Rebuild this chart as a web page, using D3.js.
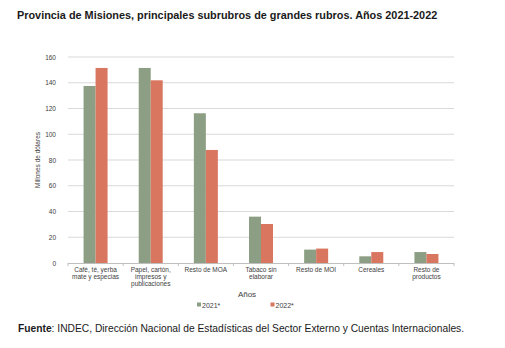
<!DOCTYPE html>
<html><head><meta charset="utf-8">
<script src="https://cdn.jsdelivr.net/npm/d3@7"></script>
<style>body{margin:0;background:#fff}svg{display:block}</style>
</head><body>
<script>
const categories = [
  ["Café, té, yerba","mate y especias"],
  ["Papel, cartón,","impresos y","publicaciones"],
  ["Resto de MOA"],
  ["Tabaco sin","elaborar"],
  ["Resto de MOI"],
  ["Cereales"],
  ["Resto de","productos"]
];
const series2021 = [137.5, 151.5, 116.3, 36, 10.4, 5.2, 8.5];
const series2022 = [151.5, 141.9, 87.8, 30.3, 11.2, 8.5, 7.0];
const seriesNames = ["2021*", "2022*"];
const yTicks = [0,20,40,60,80,100,120,140,160];

const W=505,H=348;
const svg=d3.select("body").append("svg").attr("width",W).attr("height",H);
const colors=["#8c9f84","#d8765f"];
const x0=68,x1=454,yTop=57,yBot=263;
const x=d3.scaleBand().domain(d3.range(categories.length)).range([x0,x1]);
const y=d3.scaleLinear().domain([0,160]).range([yBot,yTop]);
const sub=d3.scaleBand().domain([0,1]).range([0,24]);

const title=svg.append("text").attr("x",17).attr("y",19)
  .attr("font-family","'Liberation Sans Narrow','Liberation Sans',Arial,sans-serif")
  .attr("font-weight","bold").attr("font-size",13.5).attr("fill","#1a1a1a")
  .text("Provincia de Misiones, principales subrubros de grandes rubros. Años 2021-2022");
const tw=title.node().getComputedTextLength();
if(tw>0) title.attr("font-size",13.5*421/tw);

// grid
svg.append("g").selectAll("line").data(yTicks.filter(d=>d>0)).join("line")
  .attr("x1",x0).attr("x2",x1).attr("y1",d=>y(d)).attr("y2",d=>y(d))
  .attr("stroke","#d9d9d9").attr("stroke-width",1);

const yAxis=svg.append("g").attr("transform",`translate(${x0},0)`)
  .call(d3.axisLeft(y).tickValues(yTicks).tickSize(0).tickPadding(12));
yAxis.select(".domain").remove();
yAxis.selectAll("text").attr("font-family","'Liberation Sans',Arial,sans-serif").attr("font-size",6.5).attr("fill","#404040");

// bars
const data=[series2021,series2022];
data.forEach((s,si)=>{
  svg.append("g").selectAll("rect").data(s).join("rect")
    .attr("x",(d,i)=>x(i)+x.bandwidth()/2-12+sub(si))
    .attr("width",sub.bandwidth())
    .attr("y",d=>y(d)).attr("height",d=>yBot-y(d))
    .attr("fill",colors[si]);
});

// x axis
svg.append("line").attr("x1",x0).attr("x2",x1).attr("y1",yBot+0.5).attr("y2",yBot+0.5).attr("stroke","#bfbfbf");
svg.append("g").selectAll("line").data(d3.range(categories.length+1)).join("line")
  .attr("x1",i=>x0+i*x.step()).attr("x2",i=>x0+i*x.step())
  .attr("y1",yBot).attr("y2",yBot+3).attr("stroke","#bfbfbf");
const lab=svg.append("g").selectAll("text").data(categories).join("text")
  .attr("x",(d,i)=>x(i)+x.bandwidth()/2).attr("y",271.5)
  .attr("text-anchor","middle").attr("font-family","'Liberation Sans',Arial,sans-serif")
  .attr("font-size",6.5).attr("fill","#404040");
lab.selectAll("tspan").data(d=>d).join("tspan")
  .attr("x",function(){return this.parentNode.getAttribute("x");})
  .attr("dy",(d,i)=>i?7.3:0).text(d=>d);

svg.append("text").attr("x",247).attr("y",296.5).attr("text-anchor","middle")
  .attr("font-family","'Liberation Sans',Arial,sans-serif").attr("font-size",8).attr("fill","#404040").text("Años");

svg.append("text").attr("transform","translate(40,160) rotate(-90)").attr("text-anchor","middle")
  .attr("font-family","'Liberation Sans',Arial,sans-serif").attr("font-size",6.5).attr("fill","#404040").text("Millones de dólares");

// legend
const leg=[[197,seriesNames[0]],[270.5,seriesNames[1]]];
leg.forEach(([lx,t],i)=>{
  svg.append("rect").attr("x",lx).attr("y",302.5).attr("width",4).attr("height",4).attr("fill",colors[i]);
  svg.append("text").attr("x",lx+5).attr("y",307.5).attr("font-family","'Liberation Sans',Arial,sans-serif")
    .attr("font-size",7).attr("fill","#404040").text(t);
});

const f=svg.append("text").attr("x",18).attr("y",332).attr("font-family","'Liberation Sans',Arial,sans-serif")
  .attr("font-size",10.25).attr("fill","#1a1a1a");
f.append("tspan").attr("font-weight","bold").text("Fuente");
f.append("tspan").text(": INDEC, Dirección Nacional de Estadísticas del Sector Externo y Cuentas Internacionales.");
</script>
</body></html>
